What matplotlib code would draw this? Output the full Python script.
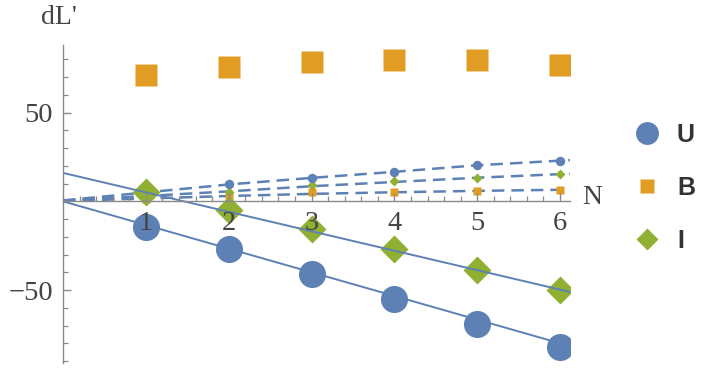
import matplotlib
matplotlib.use("Agg")
import matplotlib.pyplot as plt
from matplotlib.ticker import MultipleLocator, FixedLocator
from matplotlib.lines import Line2D

# ---- data ----
N = [1, 2, 3, 4, 5, 6]
U_big = [-14.2, -26.8, -41.1, -54.7, -68.8, -82.0]
B_big = [70.9, 75.4, 78.4, 79.5, 79.5, 76.5]
I_big = [5.5, -4.8, -15.7, -27.0, -38.7, -50.0]

U_small = [4.8, 9.7, 13.4, 16.5, 20.6, 22.9]
I_small = [3.0, 5.5, 9.3, 11.2, 13.4, 15.4]
B_small = [1.5, 2.7, 5.2, 5.2, 5.9, 6.5]

# fitted curves (read at sample x positions)
fit_x = [0, 1, 2, 3, 4, 5, 6, 6.12]
fitU = [0.5, 5.0, 9.5, 13.2, 16.6, 20.3, 22.9, 23.2]
fitI = [0.3, 3.0, 5.6, 8.5, 10.9, 13.3, 15.3, 15.5]
fitB = [0.2, 1.6, 3.0, 4.2, 5.1, 5.9, 6.5, 6.6]

line_x = [0, 6.12]
lineU = [0.0, -81.5]
lineI = [16.0, -51.0]

legend_labels = ["U", "B", "I"]
x_ticks = [1, 2, 3, 4, 5, 6]
y_ticks = [-50, 50]

# ---- style ----
BLUE = "#5E81B5"
ORANGE = "#E19C24"
GREEN = "#8FB032"
AXC = "#8a8a8a"
TXT = "#444444"

fig = plt.figure(figsize=(7.06, 3.69), dpi=100)
ax = fig.add_axes([63/706, 1-363/369, (570-63)/706, (363-45)/369])

# dashed fitted curves
for fy in (fitU, fitI, fitB):
    ax.plot(fit_x, fy, color=BLUE, lw=1.8, ls=(0, (5, 2.8)), zorder=2)

# small markers
ax.plot(N, B_small, ls="none", marker="s", ms=5.8, color=ORANGE, mec="none", zorder=3)
ax.plot(N, I_small, ls="none", marker="D", ms=5.4, color=GREEN, mec="none", zorder=3)
ax.plot(N, U_small, ls="none", marker="o", ms=6.8, color=BLUE, mec="none", zorder=3)

# large markers
ax.plot(N, U_big, ls="none", marker="o", ms=19.5, color=BLUE, mec="none", zorder=4)
ax.plot(N, B_big, ls="none", marker="s", ms=16.5, color=ORANGE, mec="none", zorder=4)
ax.plot(N, I_big, ls="none", marker="D", ms=14.5, color=GREEN, mec="none", zorder=4)

# solid fit lines
ax.plot(line_x, lineU, color=BLUE, lw=1.4, zorder=5)
ax.plot(line_x, lineI, color=BLUE, lw=1.4, zorder=5)

ax.set_xlim(0, 6.12)
ax.set_ylim(-91, 88)

for s in ("top", "right"):
    ax.spines[s].set_visible(False)
ax.spines["left"].set_position(("data", 0))
ax.spines["bottom"].set_position(("data", 0))
for s in ("left", "bottom"):
    ax.spines[s].set_color(AXC)
    ax.spines[s].set_linewidth(1.0)
    ax.spines[s].set_zorder(6)
ax.xaxis.set_zorder(7)
ax.yaxis.set_zorder(7)

ax.xaxis.set_major_locator(FixedLocator(x_ticks))
ax.xaxis.set_minor_locator(MultipleLocator(0.2))
ax.yaxis.set_major_locator(FixedLocator(y_ticks))
ax.yaxis.set_minor_locator(MultipleLocator(10))

serif = ["Liberation Serif", "DejaVu Serif"]
ax.tick_params(axis="both", which="major", direction="in", length=6, width=1.0,
               color=AXC, labelcolor=TXT, labelsize=20.5)
ax.tick_params(axis="both", which="minor", direction="in", length=3.5, width=0.9, color=AXC)
ax.tick_params(axis="x", which="major", pad=7)
ax.tick_params(axis="y", which="major", pad=7)
for lab in ax.get_xticklabels() + ax.get_yticklabels():
    lab.set_fontfamily(serif)
ax.set_yticklabels(["\u221250", "50"])

fig.text(59/706, 1-17/369, "dL'", fontsize=20, family=serif, color=TXT, ha="center", va="center")
fig.text(592/706, 1-197/369, "N", fontsize=20, family=serif, color=TXT, ha="center", va="center")

handles = [
    Line2D([], [], ls="none", marker="o", ms=16.5, color=BLUE, mec="none"),
    Line2D([], [], ls="none", marker="s", ms=10.0, color=ORANGE, mec="none"),
    Line2D([], [], ls="none", marker="D", ms=11.5, color=GREEN, mec="none"),
]
leg = fig.legend(handles, legend_labels, loc="upper left",
                 bbox_to_anchor=(622/706, 1-113/369), frameon=False,
                 prop={"family": "Liberation Sans", "weight": "bold", "size": 18},
                 labelspacing=1.15, handlelength=1.2, handletextpad=0.6, borderaxespad=0)
for t in leg.get_texts():
    t.set_color("#333333")

fig.savefig("out.png", dpi=100)
